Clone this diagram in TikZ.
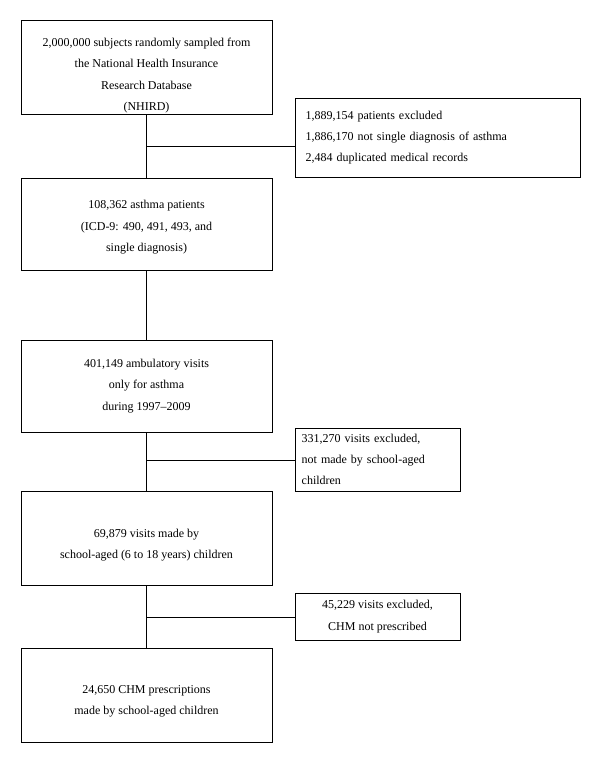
\documentclass[tikz,border=0pt]{standalone}
\usepackage{fontspec}
\setmainfont{Liberation Serif}
\newcommand{\textdrop}[1]{\rule{0pt}{#1}}

\begin{document}
\begin{tikzpicture}[x=0.75pt,y=-0.75pt,line width=0.6pt,
	mainbox/.style={draw,align=center,minimum width=188.25pt,minimum height=#1,font=\fontsize{9}{16}\selectfont},
	sidebox/.style={draw,align=left,inner xsep=8pt,font=\fontsize{9}{16}\selectfont}]
	\useasboundingbox (0,0) rectangle (600,763);

	\node[mainbox=70.5pt,inner ysep=0pt] at (146.5,67)(nhird){\textdrop{19pt}2,000,000 subjects randomly sampled from\\the National Health Insurance\\Research Database\\(NHIRD)};
	\node[mainbox=69pt] at (146.5,224)(asthma){\textdrop{11pt}108,362 asthma patients\\(ICD-9: 490, 491, 493, and\\single diagnosis)};
	\node[mainbox=69pt] at (146.5,386)(visits){401,149 ambulatory visits\\only for asthma\\during 1997--2009};
	\node[mainbox=70.5pt] at (146.5,538)(school){\textdrop{17pt}69,879 visits made by\\school-aged (6 to 18 years) children};
	\node[mainbox=70.5pt] at (146.5,695)(chm){\textdrop{15.5pt}24,650 CHM prescriptions\\made by school-aged children};

	\node[sidebox,text width=197.75pt,minimum height=59.25pt] at (437.5,137.5)(excl1){1,889,154 patients excluded\\1,886,170 not single diagnosis of asthma\\2,484 duplicated medical records};
	\node[sidebox,inner xsep=5pt,text width=113.75pt,minimum height=47.25pt] at (377.5,459.5)(excl2){331,270 visits excluded,\\not made by school-aged\\children};
	\node[sidebox,align=center,minimum width=123.75pt,minimum height=35.25pt] at (377.5,616.5)(excl3){45,229 visits excluded,\\CHM not prescribed};

	\coordinate (j1) at (146.5,146);
	\coordinate (j2) at (146.5,460);
	\coordinate (j3) at (146.5,617);
	\draw (nhird)--(asthma) (asthma)--(visits) (visits)--(school) (school)--(chm);
	\draw (j1)--(j1 -| excl1.west) (j2)--(j2 -| excl2.west) (j3)--(j3 -| excl3.west);
\end{tikzpicture}
\end{document}
